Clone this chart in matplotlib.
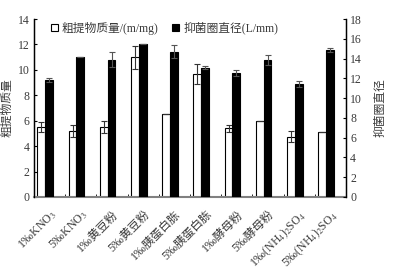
import numpy as np
import matplotlib
matplotlib.use("Agg")
import matplotlib.pyplot as plt

plt.rcParams['font.family'] = ['Liberation Serif', 'Noto Sans CJK SC', 'DejaVu Serif']
plt.rcParams['mathtext.fontset'] = 'stix'

# данные
categories = ["1‰KNO$_3$", "5‰KNO$_3$", "1‰黄豆粉", "5‰黄豆粉", "1‰胰蛋白胨",
              "5‰胰蛋白胨", "1‰酵母粉", "5‰酵母粉", "1‰(NH$_4$)$_2$SO$_4$", "5‰(NH$_4$)$_2$SO$_4$"]
mass = [5.5, 5.2, 5.5, 11.0, 6.55, 9.7, 5.4, 6.0, 4.75, 5.1]
mass_err = [0.4, 0.5, 0.5, 0.9, 0.0, 0.8, 0.3, 0.0, 0.4, 0.0]
zone = [11.8, 14.2, 13.9, 15.5, 14.7, 13.05, 12.5, 13.85, 11.45, 14.9]
zone_err = [0.2, 0.0, 0.8, 0.0, 0.65, 0.15, 0.3, 0.5, 0.3, 0.2]

txt = '#3a3a3a'
x = np.arange(len(categories))
w = 0.25

fig = plt.figure(figsize=(3.94, 2.72), dpi=100)
ax = fig.add_axes([0.0863, 0.276, 0.792, 0.654])
ax2 = ax.twinx()

ax.bar(x - 0.265, mass, w, color='white', edgecolor='black', linewidth=0.8,
       yerr=mass_err, error_kw=dict(ecolor='#333333', elinewidth=0.8, capsize=2, capthick=0.8),
       label='粗提物质量/(m/mg)')
ax2.bar(x - 0.015, zone, w, color='black', edgecolor='black', linewidth=0.8,
        yerr=zone_err, error_kw=dict(ecolor='#555555', elinewidth=0.8, capsize=2, capthick=0.8),
        label='抑菌圈直径(L/mm)')

ax.set_xlim(-0.5, len(categories) - 0.5)
ax.set_ylim(0, 14)
ax2.set_ylim(0, 18)
ax.set_yticks(range(0, 15, 2))
ax2.set_yticks(range(0, 19, 2))

# подписи категорий под углом
ax.set_xticks(x)
ax.set_xticklabels(categories, rotation=45, ha='right', rotation_mode='anchor',
                   fontsize=8.5, color=txt)
ax.tick_params(axis='x', length=0, pad=8)
ax.set_xticks(x[:-1] + 0.5, minor=True)
ax.tick_params(axis='x', which='minor', direction='in', length=2, color='black')

ax.tick_params(axis='y', direction='in', length=2.5, labelsize=8.5, labelcolor=txt, pad=3)
ax2.tick_params(axis='y', direction='in', length=2.5, labelsize=8.5, labelcolor=txt, pad=3)

for a in (ax, ax2):
    a.spines['top'].set_visible(False)
ax.spines['bottom'].set_color('#808080')
ax.spines['bottom'].set_linewidth(1.5)
ax2.spines['bottom'].set_visible(False)
ax.spines['left'].set_linewidth(1.0)
ax2.spines['right'].set_linewidth(1.0)

ax.set_ylabel('粗提物质量', fontsize=8.5, color=txt, labelpad=3)
ax2.set_ylabel('抑菌圈直径', fontsize=8.5, color=txt, labelpad=9)

h1, l1 = ax.get_legend_handles_labels()
h2, l2 = ax2.get_legend_handles_labels()
ax2.legend(h1 + h2, l1 + l2, loc='upper left', bbox_to_anchor=(0.02, 1.045), ncol=2,
           frameon=False, fontsize=8.5, handlelength=0.6, handleheight=0.6,
           handletextpad=0.3, columnspacing=1.2, labelcolor=txt)

fig.savefig('out.png', dpi=100)
